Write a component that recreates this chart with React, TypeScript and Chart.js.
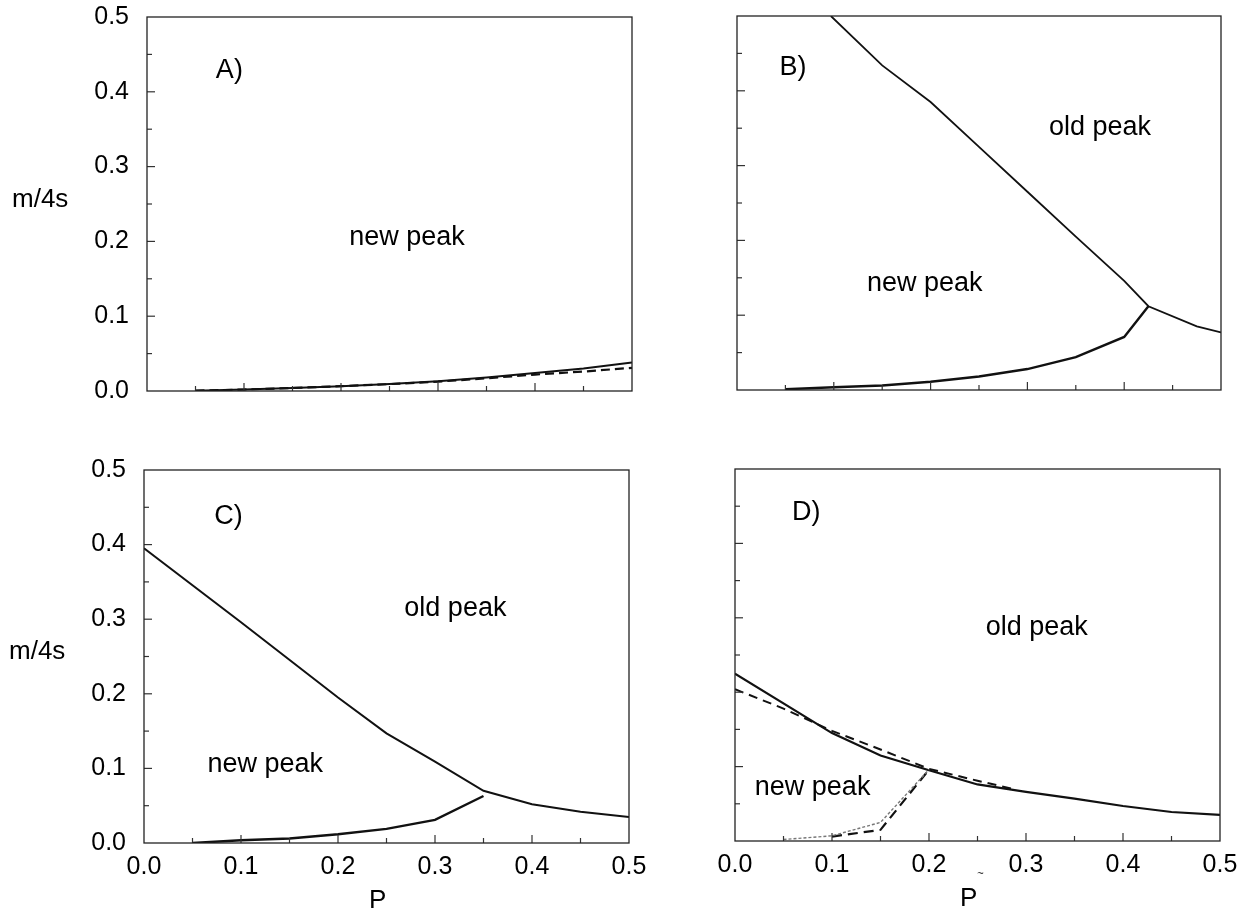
import React, { useEffect, useRef } from 'react';
import { Chart, registerables } from 'chart.js';

Chart.register(...registerables);

// ---- shared axis ticks (both axes run 0 .. 0.5) ----
const AXIS_TICKS = [0, 0.05, 0.1, 0.15, 0.2, 0.25, 0.3, 0.35, 0.4, 0.45, 0.5];
const AXIS_LABELS = ['0.0', '', '0.1', '', '0.2', '', '0.3', '', '0.4', '', '0.5'];
const X_TITLE = 'P';
const Y_TITLE = 'm/4s';

// ---- Panel A ----
const A_P = [0.05, 0.1, 0.15, 0.2, 0.25, 0.3, 0.35, 0.4, 0.45, 0.5];
const A_SOLID = [0.0005, 0.002, 0.004, 0.0065, 0.0095, 0.013, 0.018, 0.024, 0.03, 0.038];
const A_DASHED = [0.0005, 0.002, 0.004, 0.0065, 0.0092, 0.0125, 0.017, 0.022, 0.026, 0.031];

// ---- Panel B ----
const B_UPPER_P = [0.097, 0.15, 0.2, 0.25, 0.3, 0.35, 0.4, 0.425, 0.475, 0.5];
const B_UPPER = [0.5, 0.434, 0.385, 0.325, 0.265, 0.205, 0.146, 0.112, 0.085, 0.077];
const B_LOWER_P = [0.05, 0.1, 0.15, 0.2, 0.25, 0.3, 0.35, 0.4, 0.425];
const B_LOWER = [0.001, 0.0036, 0.006, 0.011, 0.018, 0.028, 0.044, 0.071, 0.112];

// ---- Panel C ----
const C_UPPER_P = [0, 0.1, 0.2, 0.25, 0.3, 0.35, 0.4, 0.45, 0.5];
const C_UPPER = [0.395, 0.296, 0.195, 0.147, 0.109, 0.07, 0.052, 0.042, 0.035];
const C_LOWER_P = [0.05, 0.1, 0.15, 0.2, 0.25, 0.3, 0.35];
const C_LOWER = [0, 0.0036, 0.006, 0.0117, 0.019, 0.031, 0.063];

// ---- Panel D ----
const D_SOLID_P = [0, 0.1, 0.15, 0.2, 0.25, 0.3, 0.35, 0.4, 0.45, 0.5];
const D_SOLID = [0.225, 0.145, 0.115, 0.095, 0.076, 0.066, 0.057, 0.047, 0.039, 0.035];
const D_DASHED_P = [0, 0.05, 0.1, 0.15, 0.2, 0.25, 0.29];
const D_DASHED = [0.204, 0.178, 0.148, 0.123, 0.097, 0.081, 0.069];
const D_GREY_P = [0.05, 0.1, 0.15, 0.2];
const D_GREY = [0.002, 0.007, 0.025, 0.096];
const D_LOWDASH_P = [0.1, 0.15, 0.2];
const D_LOWDASH = [0.006, 0.015, 0.096];

// ---- panel labels ----
const A_NOTES = [
  { text: 'A)', p: 0.071, m: 0.418, align: 'left' },
  { text: 'new peak', p: 0.268, m: 0.195, align: 'center' },
];
const B_NOTES = [
  { text: 'B)', p: 0.044, m: 0.421, align: 'left' },
  { text: 'old peak', p: 0.375, m: 0.3406, align: 'center' },
  { text: 'new peak', p: 0.194, m: 0.133, align: 'center' },
];
const C_NOTES = [
  { text: 'C)', p: 0.0725, m: 0.427, align: 'left' },
  { text: 'old peak', p: 0.321, m: 0.304, align: 'center' },
  { text: 'new peak', p: 0.125, m: 0.0955, align: 'center' },
];
const D_NOTES = [
  { text: 'D)', p: 0.0588, m: 0.431, align: 'left' },
  { text: 'old peak', p: 0.311, m: 0.277, align: 'center' },
  { text: 'new peak', p: 0.08, m: 0.0618, align: 'center' },
];

const FONT = "'Liberation Sans', Arial, Helvetica, sans-serif";

type Series = { p: number[]; m: number[]; dash: number[]; width: number; color: string };
type Panel = {
  plot: { l: number; t: number; r: number; b: number };
  showX: boolean;
  showY: boolean;
  series: Series[];
  notes: { text: string; p: number; m: number; align: string }[];
  extra?: boolean;
};

const PANELS: Panel[] = [
  {
    plot: { l: 147, t: 17, r: 632, b: 391 },
    showX: false,
    showY: true,
    series: [
      { p: A_P, m: A_DASHED, dash: [9, 5], width: 2.2, color: '#111' },
      { p: A_P, m: A_SOLID, dash: [], width: 2, color: '#111' },
    ],
    notes: A_NOTES,
  },
  {
    plot: { l: 737, t: 16, r: 1221, b: 390 },
    showX: false,
    showY: false,
    series: [
      { p: B_UPPER_P, m: B_UPPER, dash: [], width: 1.8, color: '#111' },
      { p: B_LOWER_P, m: B_LOWER, dash: [], width: 2.4, color: '#111' },
    ],
    notes: B_NOTES,
  },
  {
    plot: { l: 144, t: 470, r: 629, b: 843 },
    showX: true,
    showY: true,
    series: [
      { p: C_UPPER_P, m: C_UPPER, dash: [], width: 2, color: '#111' },
      { p: C_LOWER_P, m: C_LOWER, dash: [], width: 2.4, color: '#111' },
    ],
    notes: C_NOTES,
  },
  {
    plot: { l: 735, t: 469, r: 1220, b: 841 },
    showX: true,
    showY: false,
    series: [
      { p: D_GREY_P, m: D_GREY, dash: [3, 2], width: 1.4, color: '#777' },
      { p: D_LOWDASH_P, m: D_LOWDASH, dash: [10, 6], width: 2.2, color: '#111' },
      { p: D_DASHED_P, m: D_DASHED, dash: [9, 6], width: 2, color: '#111' },
      { p: D_SOLID_P, m: D_SOLID, dash: [], width: 2.2, color: '#111' },
    ],
    notes: D_NOTES,
    extra: true,
  },
];

function makeDecor(cfg: Panel) {
  return {
    id: 'panelDecor',
    afterDraw(chart: any) {
      const { ctx, chartArea: ca, scales } = chart;
      const xs = scales.x;
      const ys = scales.y;
      ctx.save();
      // inward tick marks
      ctx.strokeStyle = '#333';
      ctx.lineWidth = 1.2;
      AXIS_TICKS.forEach((v, i) => {
        const major = AXIS_LABELS[i] !== '';
        const len = major ? 8 : 5;
        if (i > 0 && i < AXIS_TICKS.length - 1) {
          const py = ys.getPixelForValue(v);
          ctx.beginPath();
          ctx.moveTo(ca.left, py);
          ctx.lineTo(ca.left + len, py);
          ctx.stroke();
          const px = xs.getPixelForValue(v);
          ctx.beginPath();
          ctx.moveTo(px, ca.bottom);
          ctx.lineTo(px, ca.bottom - len);
          ctx.stroke();
        }
      });
      // frame
      ctx.strokeStyle = '#222';
      ctx.lineWidth = 1.3;
      ctx.strokeRect(ca.left, ca.top, ca.right - ca.left, ca.bottom - ca.top);
      // annotations
      ctx.fillStyle = '#000';
      ctx.font = `27px ${FONT}`;
      ctx.textBaseline = 'alphabetic';
      cfg.notes.forEach((n) => {
        ctx.textAlign = n.align;
        ctx.fillText(n.text, xs.getPixelForValue(n.p), ys.getPixelForValue(n.m));
      });
      // axis titles
      ctx.font = `26px ${FONT}`;
      ctx.textBaseline = 'middle';
      if (cfg.showY) {
        ctx.textAlign = 'left';
        ctx.fillText(Y_TITLE, ca.left - 135, ys.getPixelForValue(0.256));
      }
      if (cfg.showX) {
        ctx.textAlign = 'center';
        ctx.fillText(X_TITLE, xs.getPixelForValue(0.241), ca.bottom + 58);
      }
      if (cfg.extra) {
        ctx.font = `11px ${FONT}`;
        ctx.textAlign = 'center';
        ctx.fillText('~', xs.getPixelForValue(0.253), ca.bottom + 33);
      }
      ctx.restore();
    },
  };
}

function PanelChart({ cfg }: { cfg: Panel }) {
  const ref = useRef<HTMLCanvasElement | null>(null);
  const { plot } = cfg;
  const left = cfg.showY ? 0 : plot.l - 40;
  const top = plot.t - 16;
  const right = plot.r + 34;
  const bottom = cfg.showX ? 913 : plot.b + 24;
  const w = right - left;
  const h = bottom - top;

  useEffect(() => {
    const tickFont = { family: FONT, size: 25 };
    const chart = new Chart(ref.current as HTMLCanvasElement, {
      type: 'line',
      data: {
        datasets: cfg.series.map((s) => ({
          data: s.p.map((x, i) => ({ x, y: s.m[i] })),
          borderColor: s.color,
          borderWidth: s.width,
          borderDash: s.dash,
          pointRadius: 0,
          fill: false,
          tension: 0,
        })),
      },
      options: {
        responsive: false,
        animation: false,
        devicePixelRatio: 1,
        layout: { padding: { top: plot.t - top, right: right - plot.r, left: 0, bottom: 0 } },
        plugins: { legend: { display: false }, tooltip: { enabled: false } },
        scales: {
          x: {
            type: 'linear',
            min: 0,
            max: 0.5,
            afterBuildTicks: (s: any) => {
              s.ticks = AXIS_TICKS.map((value) => ({ value }));
            },
            afterFit: (s: any) => {
              s.height = bottom - plot.b;
            },
            grid: { display: false, drawTicks: true, tickLength: 8 },
            border: { display: false },
            ticks: {
              display: cfg.showX,
              autoSkip: false,
              maxRotation: 0,
              padding: 1,
              color: '#000',
              font: tickFont,
              callback: (_v: any, i: number) => AXIS_LABELS[i],
            },
          },
          y: {
            type: 'linear',
            min: 0,
            max: 0.5,
            afterBuildTicks: (s: any) => {
              s.ticks = AXIS_TICKS.map((value) => ({ value }));
            },
            afterFit: (s: any) => {
              s.width = plot.l - left;
            },
            grid: { display: false, drawTicks: true, tickLength: 17 },
            border: { display: false },
            ticks: {
              display: cfg.showY,
              autoSkip: false,
              padding: 1,
              color: '#000',
              font: tickFont,
              callback: (_v: any, i: number) => AXIS_LABELS[i],
            },
          },
        },
      } as any,
      plugins: [makeDecor(cfg)],
    });
    return () => chart.destroy();
  }, []);

  return (
    <canvas
      ref={ref}
      width={w}
      height={h}
      style={{ position: 'absolute', left, top, width: w, height: h }}
    />
  );
}

export default function App() {
  return (
    <div style={{ position: 'absolute', left: 0, top: 0, width: 1246, height: 913, background: '#fff' }}>
      {PANELS.map((cfg, i) => (
        <PanelChart key={i} cfg={cfg} />
      ))}
    </div>
  );
}
